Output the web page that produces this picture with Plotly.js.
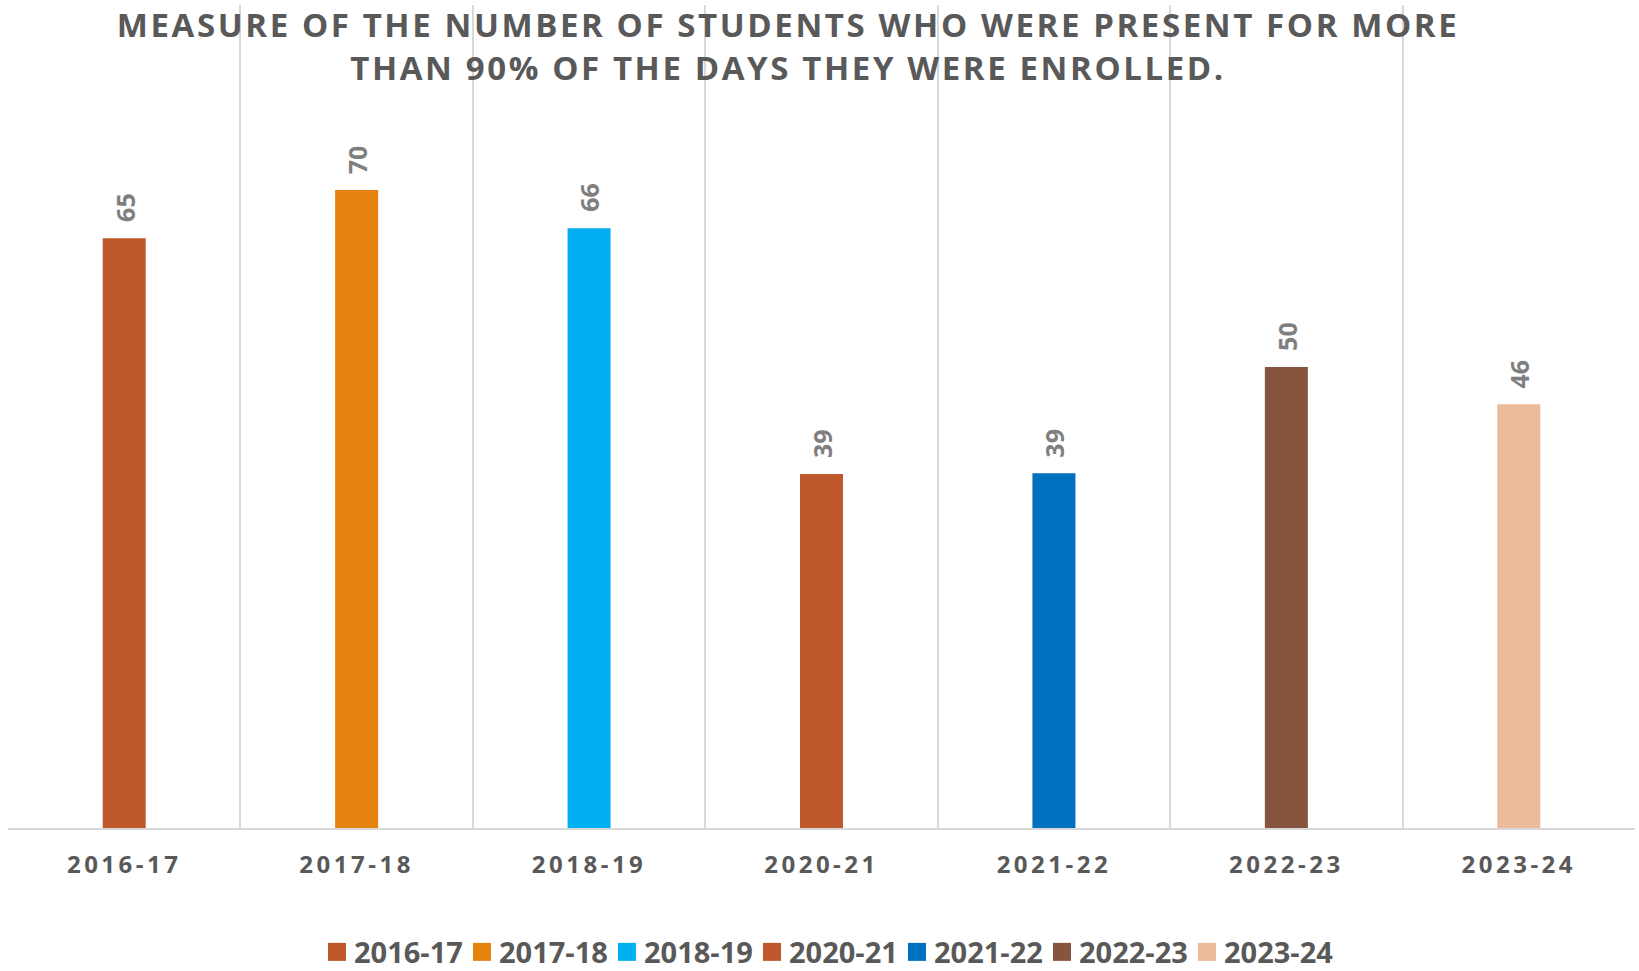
<!DOCTYPE html>
<html>
<head>
<meta charset="utf-8">
<script src="https://cdn.plot.ly/plotly-3.0.1.min.js"></script>
<style>
  html, body { margin: 0; padding: 0; background: #ffffff; }
  #chart { width: 1639px; height: 971px; }
  .xtick text { letter-spacing: 3.5px; }
  .gtitle { letter-spacing: 2.6px; }
  .legendpoints path { transform: translate(23px, 0px) scale(1.5); }
  .legend .scrollbox { clip-path: none !important; }
</style>
</head>
<body>
<div id="chart"></div>
<script>
// ---- data ----
const categories = ["2016-17", "2017-18", "2018-19", "2020-21", "2021-22", "2022-23", "2023-24"];
const values = [65, 70.3, 66.1, 39, 39.1, 50.8, 46.7];
const labels = ["65", "70", "66", "39", "39", "50", "46"];
const colors = ["#BF592C", "#E6830F", "#00B0F0", "#BF592C", "#0070C0", "#87553D", "#EEBA9C"];
const titleText = "MEASURE OF THE NUMBER OF STUDENTS WHO WERE PRESENT FOR MORE<br>THAN 90% OF THE DAYS THEY WERE ENROLLED.";

const traces = categories.map((c, i) => ({
  type: "bar",
  name: c,
  x: [c],
  y: [values[i]],
  width: 0.185,
  marker: { color: colors[i] },
  hoverinfo: "x+y"
}));

const annotations = categories.map((c, i) => ({
  x: c,
  y: values[i],
  xref: "x",
  yref: "y",
  text: labels[i],
  textangle: -90,
  showarrow: false,
  xanchor: "center",
  yanchor: "bottom",
  yshift: 14,
  font: { family: "Open Sans", size: 25, color: "#7F7F7F", weight: 700 }
}));

const layout = {
  width: 1639,
  height: 971,
  paper_bgcolor: "#ffffff",
  plot_bgcolor: "#ffffff",
  margin: { l: 8, r: 4, t: 5, b: 143, autoexpand: false },
  barmode: "overlay",
  showlegend: true,
  title: {
    text: titleText,
    xref: "container",
    yref: "container",
    x: 0.4808,
    xanchor: "center",
    y: 1 - 37 / 971,
    yanchor: "top",
    font: { family: "Open Sans", size: 33, color: "#595959", weight: 700 }
  },
  xaxis: {
    type: "category",
    categoryorder: "array",
    categoryarray: categories,
    tickson: "boundaries",
    showgrid: true,
    gridcolor: "#D9D9D9",
    gridwidth: 1.5,
    showline: true,
    linecolor: "#D9D9D9",
    linewidth: 2,
    ticks: "",
    ticklabelstandoff: 14,
    tickfont: { family: "Open Sans", size: 24, color: "#595959", weight: 700 },
    fixedrange: true
  },
  yaxis: {
    range: [0, 90.7],
    visible: false,
    showgrid: false,
    zeroline: false,
    fixedrange: true
  },
  legend: {
    orientation: "h",
    x: 0.5,
    xanchor: "center",
    y: -0.1507,
    yanchor: "middle",
    entrywidth: 100,
    entrywidthmode: "pixels",
    font: { family: "Open Sans", size: 29, color: "#595959", weight: 700 },
    itemclick: false,
    itemdoubleclick: false
  },
  annotations: annotations
};

Plotly.newPlot("chart", traces, layout, { displayModeBar: false });
</script>
</body>
</html>
